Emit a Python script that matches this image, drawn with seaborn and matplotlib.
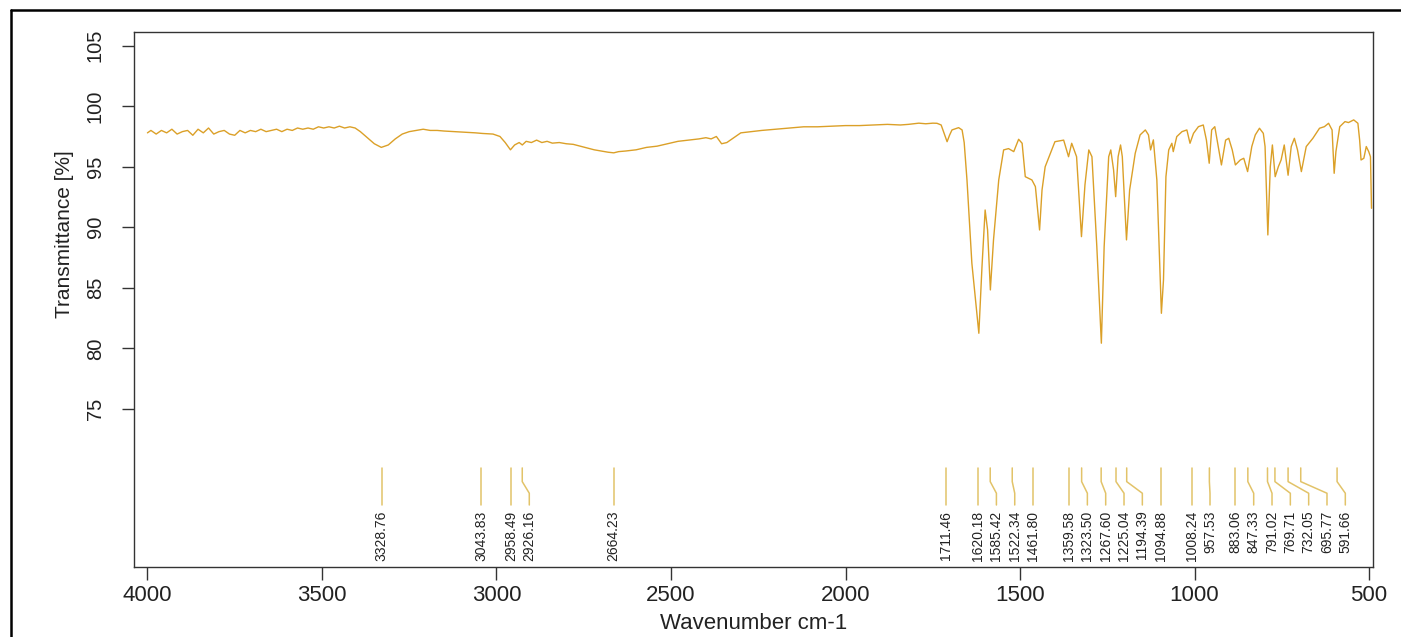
import matplotlib
matplotlib.use("Agg")
import numpy as np
import pandas as pd
import seaborn as sns
import matplotlib.pyplot as plt
from matplotlib import font_manager
from matplotlib.lines import Line2D

# ---------------- data ----------------
wavenumber = [
    4000, 3990, 3975, 3960, 3945, 3930, 3915, 3900, 3885, 3870, 3855, 3840, 3825, 3810,
    3795, 3780, 3765, 3750, 3735, 3720, 3705, 3690, 3675, 3660, 3645, 3630, 3615, 3600,
    3585, 3570, 3555, 3540, 3525, 3510, 3495, 3480, 3465, 3450, 3435, 3420, 3405, 3390,
    3370, 3350, 3330, 3310, 3290, 3270, 3250, 3230, 3210, 3190, 3170, 3150, 3120, 3090,
    3060, 3040, 3010, 2990, 2975, 2960, 2948, 2935, 2926, 2915, 2900, 2885, 2870, 2855,
    2840, 2820, 2800, 2780, 2760, 2740, 2720, 2700, 2680, 2664, 2650, 2630, 2600, 2570,
    2540, 2510, 2480, 2450, 2420, 2400, 2385, 2370, 2355, 2340, 2325, 2300, 2270, 2240,
    2200, 2160, 2120, 2080, 2040, 2000, 1960, 1920, 1880, 1843, 1820, 1790, 1770, 1750,
    1738, 1726, 1718, 1709, 1702, 1695, 1676, 1666, 1660, 1652, 1638, 1618, 1609, 1600,
    1593, 1585, 1576, 1561, 1547, 1533, 1518, 1504, 1494, 1485, 1466, 1456, 1444, 1437,
    1428, 1400, 1375, 1361, 1352, 1338, 1324, 1314, 1303, 1294, 1280, 1267, 1259, 1246,
    1240, 1232, 1226, 1219, 1212, 1207, 1195, 1186, 1170, 1156, 1141, 1132, 1126, 1118,
    1108, 1095, 1089, 1082, 1074, 1065, 1061, 1051, 1036, 1022, 1013, 1003, 989, 975,
    966, 958, 951, 942, 932, 923, 911, 902, 892, 883, 869, 859, 848, 836,
    826, 814, 803, 798, 790, 783, 777, 769, 760, 752, 743, 732, 723, 714,
    705, 694, 680, 661, 642, 628, 616, 606, 603, 600, 595, 584, 569, 559,
    544, 532, 527, 523, 515, 508, 501, 496, 493,
]
transmittance = [
    97.8, 98.0, 97.7, 98.0, 97.8, 98.1, 97.7, 97.9, 98.0, 97.6, 98.1, 97.8, 98.2, 97.7,
    97.9, 98.0, 97.7, 97.6, 98.0, 97.8, 98.0, 97.9, 98.1, 97.9, 98.0, 98.1, 97.9, 98.1,
    98.0, 98.2, 98.1, 98.2, 98.1, 98.3, 98.2, 98.3, 98.2, 98.35, 98.2, 98.3, 98.2, 97.9,
    97.4, 96.9, 96.6, 96.8, 97.3, 97.7, 97.9, 98.0, 98.1, 98.0, 98.0, 97.95, 97.9, 97.85,
    97.8, 97.75, 97.7, 97.5, 97.0, 96.4, 96.8, 97.0, 96.8, 97.1, 97.0, 97.2, 97.0, 97.1,
    96.95, 97.0, 96.9, 96.85, 96.7, 96.55, 96.4, 96.3, 96.2, 96.15, 96.25, 96.3, 96.4, 96.6,
    96.7, 96.9, 97.1, 97.2, 97.3, 97.4, 97.3, 97.5, 96.9, 97.0, 97.3, 97.8, 97.9, 98.0,
    98.1, 98.2, 98.3, 98.3, 98.35, 98.4, 98.4, 98.45, 98.5, 98.45, 98.5, 98.6, 98.55, 98.6,
    98.59, 98.45, 97.8, 97.07, 97.6, 98.04, 98.23, 98.04, 97.0, 93.91, 87.03, 81.25, 86.75, 91.43,
    89.78, 84.83, 88.96, 93.91, 96.39, 96.5, 96.25, 97.27, 96.94, 94.18, 93.91, 93.36, 89.78, 93.08,
    95.0, 97.07, 97.2, 95.83, 96.94, 95.83, 89.23, 93.5, 96.39, 95.83, 88.4, 80.43, 88.4, 95.83,
    96.39, 94.74, 92.53, 95.83, 96.8, 95.83, 88.96, 93.08, 96.11, 97.63, 98.04, 97.63, 96.39, 97.22,
    93.91, 82.9, 85.65, 94.18, 96.39, 96.94, 96.25, 97.49, 97.9, 98.04, 96.94, 97.76, 98.31, 98.45,
    97.2, 95.29, 98.04, 98.31, 96.67, 95.15, 97.2, 97.35, 96.39, 95.15, 95.56, 95.7, 94.6, 96.67,
    97.63, 98.18, 97.76, 96.67, 89.37, 95.0, 96.8, 94.18, 95.0, 95.56, 96.8, 94.3, 96.67, 97.35,
    96.39, 94.6, 96.67, 97.35, 98.18, 98.31, 98.59, 98.04, 96.25, 94.46, 96.25, 98.31, 98.73, 98.65,
    98.87, 98.59, 97.2, 95.56, 95.7, 96.67, 96.25, 95.83, 91.57,
]
peaks = [3328.76, 3043.83, 2958.49, 2926.16, 2664.23, 1711.46, 1620.18, 1585.42,
         1522.34, 1461.80, 1359.58, 1323.50, 1267.60, 1225.04, 1194.39, 1094.88,
         1008.24, 957.53, 883.06, 847.33, 791.02, 769.71, 732.05, 695.77, 591.66]
x_ticks = [4000, 3500, 3000, 2500, 2000, 1500, 1000, 500]
y_ticks = [75, 80, 85, 90, 95, 100, 105]
x_label = "Wavenumber cm-1"
y_label = "Transmittance [%]"

# ---------------- style ----------------
sns.set_theme(style="white")
names = {f.name for f in font_manager.fontManager.ttflist}
if "Liberation Sans Narrow" in names:
    NARROW = ["Liberation Sans Narrow", "DejaVu Sans"]
    PEAK_FS = 11.4
else:
    NARROW = ["Liberation Sans", "DejaVu Sans"]
    PEAK_FS = 10.0
plt.rcParams["font.family"] = ["Liberation Sans", "DejaVu Sans"]

SPEC_COLOR = "#DBA028"
MARK_COLOR = "#E2C369"
AX_COLOR = "#333333"

fig = plt.figure(figsize=(14.01, 6.37), dpi=100)
ax = fig.add_axes([0.0956, 0.1099, 0.8841, 0.8399])

df = pd.DataFrame({"wn": wavenumber, "T": transmittance})
sns.lineplot(data=df, x="wn", y="T", sort=False, estimator=None,
             color=SPEC_COLOR, linewidth=1.0, ax=ax)

ax.set_xlim(4038.7, 490)
ax.set_ylim(61.95, 106.13)
ax.set_xticks(x_ticks)
ax.set_xticklabels([str(v) for v in x_ticks], fontsize=16, color="#222222")
ax.set_yticks(y_ticks)
ax.set_yticklabels([str(v) for v in y_ticks], fontsize=14.5, rotation=90,
                   va="center", family=NARROW, color="#222222")
ax.tick_params(axis="x", length=9, width=1, color=AX_COLOR, bottom=True, pad=4)
ax.tick_params(axis="y", length=9, width=1, color=AX_COLOR, left=True, pad=12)
for s in ax.spines.values():
    s.set_visible(True)
    s.set_color(AX_COLOR)
    s.set_linewidth(1.0)

ax.set_xlabel(x_label, fontsize=16, color="#222222")
ax.xaxis.set_label_coords(0.5, -0.086)
ax.set_ylabel(y_label, fontsize=15, family=NARROW, color="#222222")
ax.yaxis.set_label_coords(-0.048, 0.622)

# ---------------- peak markers ----------------
gap = 52.5
label_pos = []
prev = None
for p in sorted(peaks, reverse=True):
    l = p if prev is None else min(p, prev - gap)
    label_pos.append((p, l))
    prev = l
for p, l in label_pos:
    ax.plot([p, p, l, l], [70.13, 69.0, 68.04, 67.07], color=MARK_COLOR, lw=1.1)
    ax.text(l, 66.6, f"{p:.2f}", rotation=90, ha="center", va="top",
            fontsize=PEAK_FS, family=NARROW, color="#222222")

# ---------------- outer frame ----------------
fy = (637 - 9.5) / 637
fx = 11 / 1401
fig.add_artist(Line2D([fx, fx], [0, fy], transform=fig.transFigure, color="black", lw=1.8))
fig.add_artist(Line2D([fx, 1], [fy, fy], transform=fig.transFigure, color="black", lw=1.8))

fig.savefig("out.png", dpi=100)
